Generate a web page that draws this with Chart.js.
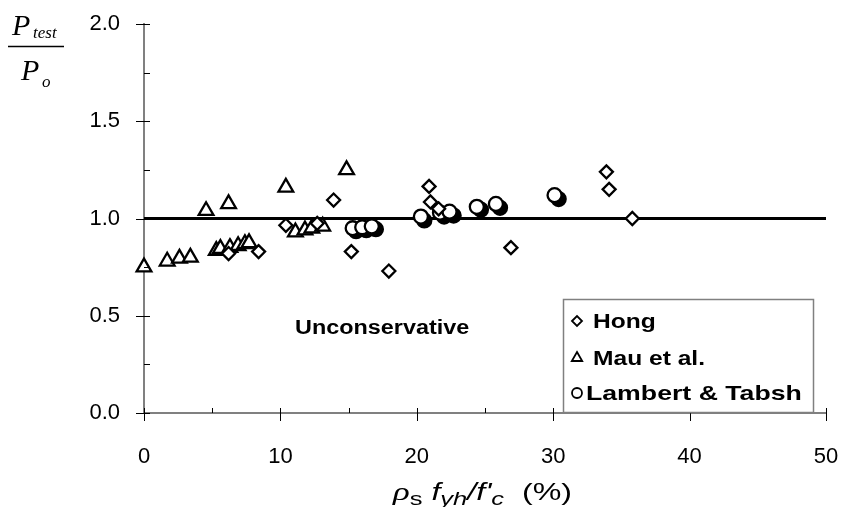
<!DOCTYPE html>
<html>
<head>
<meta charset="utf-8">
<script src="https://cdn.jsdelivr.net/npm/chart.js@4"></script>
<style>
  body { margin: 0; background: #fff; }
  #wrap { width: 842px; height: 507px; }
</style>
</head>
<body>
<div id="wrap"><canvas id="c" width="842" height="507"></canvas></div>
<script>
// x values: rho_s * fyh / f'c (%), y values: Ptest / Po
const hongX = [6.2, 8.4, 10.4, 12.7, 13.9, 15.2, 17.95, 20.9, 21.0, 21.6, 26.9, 33.9, 34.1, 35.8];
const hongY = [0.82, 0.83, 0.965, 0.975, 1.095, 0.83, 0.73, 1.165, 1.085, 1.05, 0.85, 1.24, 1.15, 1.0];

const mauX = [0, 1.7, 2.6, 3.4, 4.55, 5.3, 5.6, 6.2, 6.3, 6.9, 7.4, 7.7, 10.4, 11.1, 11.8, 12.3, 13.1, 14.85];
const mauY = [0.75, 0.78, 0.795, 0.80, 1.04, 0.835, 0.845, 1.075, 0.85, 0.86, 0.87, 0.875, 1.16, 0.93, 0.94, 0.95, 0.96, 1.25];

const lambertX = [15.3, 16.0, 16.7, 20.3, 21.7, 22.4, 24.4, 25.8, 30.1];
const lambertY = [0.95, 0.955, 0.96, 1.01, 1.03, 1.035, 1.06, 1.075, 1.12];

// solid markers sitting just behind the open circles
const lambertSolidX = [15.55, 16.3, 17.0, 20.55, 22.0, 22.7, 24.7, 26.1, 30.4];
const lambertSolidY = [0.935, 0.94, 0.945, 0.99, 1.01, 1.015, 1.045, 1.055, 1.10];

const refX = [0, 50];
const refY = [1.0, 1.0];

const xTicks = [0, 10, 20, 30, 40, 50];
const yTicks = [0.0, 0.5, 1.0, 1.5, 2.0];

const pts = (xs, ys) => xs.map((x, i) => ({ x: x, y: ys[i] }));

const SANS = '"Liberation Sans", Arial, sans-serif';
const SERIF = '"Liberation Serif", "Times New Roman", serif';
const STRETCH = 1.17; // the original lettering is a bit wide

// text drawn wider than the font, anchored at its left edge
function wideText(ctx, txt, x, y, k) {
  ctx.save();
  ctx.translate(x, y);
  ctx.scale(k || STRETCH, 1);
  ctx.fillText(txt, 0, 0);
  ctx.restore();
}

// draws the things Chart.js has no option for: inner ticks, titles, legend, note
const decorations = {
  id: 'decorations',
  afterDraw(chart) {
    const ctx = chart.ctx;
    const xs = chart.scales.x, ys = chart.scales.y;
    const x0 = xs.getPixelForValue(0), y0 = ys.getPixelForValue(0);
    ctx.save();

    // tick marks
    ctx.strokeStyle = '#000';
    ctx.lineWidth = 1;
    ctx.beginPath();
    for (let v = 0; v <= 50; v += 5) {
      const px = Math.round(xs.getPixelForValue(v)) + 0.5;
      const major = v % 10 === 0;
      ctx.moveTo(px, y0 - 5);
      ctx.lineTo(px, major ? y0 + 8 : y0);
    }
    for (let v = 0; v <= 2.0001; v += 0.25) {
      const py = Math.round(ys.getPixelForValue(v)) + 0.5;
      const major = Math.abs(v * 2 - Math.round(v * 2)) < 1e-6;
      ctx.moveTo(major ? x0 - 8 : x0, py);
      ctx.lineTo(x0 + 6, py);
    }
    ctx.stroke();

    // y title as a fraction  P_test / P_o
    ctx.fillStyle = '#000';
    ctx.textBaseline = 'alphabetic';
    ctx.textAlign = 'left';
    ctx.font = 'italic 30px ' + SERIF;
    ctx.fillText('P', 12, 35);
    ctx.font = 'italic 17px ' + SERIF;
    ctx.fillText('test', 33, 38);
    ctx.lineWidth = 1.5;
    ctx.beginPath();
    ctx.moveTo(8, 46.5);
    ctx.lineTo(64, 46.5);
    ctx.stroke();
    ctx.font = 'italic 30px ' + SERIF;
    ctx.fillText('P', 21, 80);
    ctx.font = 'italic 17px ' + SERIF;
    ctx.fillText('o', 42, 87);

    // x title  rho_s f_yh / f'_c (%), fitted to the original width
    const runs = [
      { t: '\u03C1', f: 'italic 26px ' + SERIF, dy: 0 },
      { t: 's', f: '19px ' + SANS, dy: 5 },
      { t: ' f', f: 'italic 24px ' + SANS, dy: 0 },
      { t: 'yh', f: 'italic 19px ' + SANS, dy: 5 },
      { t: '/f\'', f: 'italic 24px ' + SANS, dy: 0 },
      { t: 'c', f: 'italic 19px ' + SANS, dy: 5 },
      { t: '  (%)', f: '24px ' + SANS, dy: 0 }
    ];
    let total = 0;
    runs.forEach(r => { ctx.font = r.f; total += ctx.measureText(r.t).width; });
    const k = 179 / total;
    let cx = 393;
    runs.forEach(r => {
      ctx.font = r.f;
      wideText(ctx, r.t, cx, 500 + r.dy, k);
      cx += ctx.measureText(r.t).width * k;
    });

    // region note
    ctx.font = 'bold 20px ' + SANS;
    ctx.textBaseline = 'middle';
    wideText(ctx, 'Unconservative', 295, 328);

    // legend box
    ctx.fillStyle = '#fff';
    ctx.fillRect(563, 299, 250, 113);
    ctx.strokeStyle = '#808080';
    ctx.lineWidth = 1.5;
    ctx.strokeRect(563.5, 299.5, 250, 113);
    const rows = [
      { ds: 0, y: 321, tx: 593, r: 5, k: 1.17 },
      { ds: 1, y: 358, tx: 593, r: 6, k: 1.17 },
      { ds: 2, y: 393, tx: 586, r: 5, k: 1.27 }
    ];
    ctx.font = 'bold 21px ' + SANS;
    rows.forEach(row => {
      const d = chart.data.datasets[row.ds];
      ctx.strokeStyle = '#000';
      ctx.fillStyle = '#fff';
      ctx.lineWidth = 1.8;
      Chart.helpers.drawPoint(ctx, { pointStyle: d.pointStyle, radius: row.r, borderWidth: 1.8 }, 577, row.y);
      ctx.fillStyle = '#000';
      wideText(ctx, d.label, row.tx, row.y + 1, row.k);
    });

    ctx.restore();
  }
};

const marker = (style, r) => ({
  pointStyle: style,
  pointRadius: r,
  pointHoverRadius: r,
  pointBorderColor: '#000',
  pointBackgroundColor: '#fff',
  pointBorderWidth: 2.3,
  showLine: false,
  clip: false
});

new Chart(document.getElementById('c'), {
  type: 'scatter',
  data: {
    datasets: [
      Object.assign({ label: 'Hong', data: pts(hongX, hongY), order: 0 }, marker('rectRot', 6.5)),
      Object.assign({ label: 'Mau et al.', data: pts(mauX, mauY), order: 0 }, marker('triangle', 8.5)),
      Object.assign({ label: 'Lambert & Tabsh', data: pts(lambertX, lambertY), order: 0 }, marker('circle', 7)),
      Object.assign({ label: 'solid', data: pts(lambertSolidX, lambertSolidY), order: 1 },
        marker('circle', 7), { pointBackgroundColor: '#000' }),
      {
        label: 'ref', data: pts(refX, refY), type: 'line', order: 2,
        borderColor: '#000', borderWidth: 3, pointRadius: 0, showLine: true, clip: false
      }
    ]
  },
  options: {
    responsive: false,
    animation: false,
    layout: { padding: { left: 0, top: 24, right: 16, bottom: 0 } },
    plugins: { legend: { display: false }, tooltip: { enabled: false } },
    scales: {
      x: {
        type: 'linear', min: 0, max: 50,
        afterBuildTicks: s => { s.ticks = xTicks.map(v => ({ value: v })); },
        afterFit: s => { s.height = 94; s.paddingLeft = 0; s.paddingRight = 0; },
        grid: { display: true, drawOnChartArea: false, drawTicks: false },
        border: { display: true, color: '#808080', width: 2 },
        ticks: { padding: 31, color: '#000', font: { family: SANS, size: 22 } }
      },
      y: {
        type: 'linear', min: 0, max: 2,
        afterBuildTicks: s => { s.ticks = yTicks.map(v => ({ value: v })); },
        afterFit: s => { s.width = 144; s.paddingTop = 0; s.paddingBottom = 0; },
        grid: { display: true, drawOnChartArea: false, drawTicks: false },
        border: { display: true, color: '#808080', width: 2 },
        ticks: {
          padding: 24, color: '#000', font: { family: SANS, size: 22 },
          callback: v => v.toFixed(1)
        }
      }
    }
  },
  plugins: [decorations]
});
</script>
</body>
</html>
